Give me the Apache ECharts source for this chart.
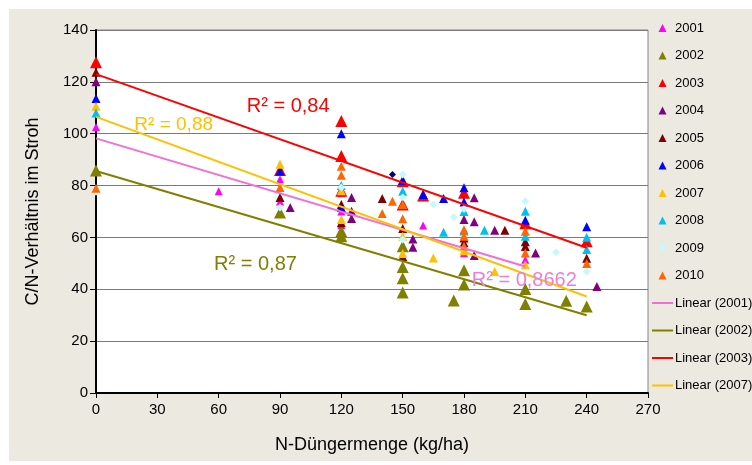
<!DOCTYPE html>
<html>
<head>
<meta charset="utf-8">
<script src="https://cdn.jsdelivr.net/npm/echarts@6/dist/echarts.min.js"></script>
<style>html,body{margin:0;padding:0;background:#fff;}#c{width:752px;height:465px;}</style>
</head>
<body>
<div id="c"></div>
<script>
// ---- data (x = N-Düngermenge kg/ha, y = C/N-Verhältnis) ----
const s2001 = [[0,102.6],[60,77.8],[90,82.4],[90,73.9],[120,77],[120,70],[120,64.7],[160,64.6],[180,53.9],[210,51.4]];
const s2002 = [[0,85.8],[90,69.6],[120,62.4],[120,60.5],[150,56.6],[150,48.6],[150,44.3],[150,38.8],[175,35.7],[180,47.3],[180,41.8],[210,40.1],[210,34.3],[230,35.6],[240,33.4]];
const s2003 = [[0,127.6],[90,86],[120,104.9],[120,91.4],[120,78],[150,81.7],[150,72.7],[160,76.2],[180,77.2],[210,65.5],[240,58.5]];
const s2004 = [[0,120],[95,71.5],[125,75.4],[125,70.1],[125,67.3],[155,59.4],[155,56.2],[180,66.9],[185,75.3],[185,66],[185,53],[195,62.8],[215,54],[245,41.1]];
const s2005 = [[0,123.7],[90,75.4],[120,72.7],[120,65.7],[140,75],[150,63.4],[150,52.6],[180,59.8],[180,57.9],[200,62.8],[210,58.3],[210,56.5],[240,52]];
const s2006 = [[0,113.6],[90,85.6],[120,100],[120,71.5],[150,82],[160,76.6],[170,75],[180,79.2],[180,73.7],[210,66.6],[240,64.1]];
const s2006b = [[145,84.3]];
const s2007 = [[0,110.6],[90,88.2],[120,78],[120,66.9],[150,60.5],[150,53.8],[165,52.1],[180,54.9],[195,46.9],[210,49.5]];
const s2008 = [[0,108],[120,80],[150,77.8],[170,62],[180,70],[180,62.5],[190,62.8],[210,70.1],[210,60.5],[240,60.1],[240,55.3]];
const s2009 = [[0,77.6],[90,71.5],[120,79.3],[150,84.3],[150,75.4],[150,59.2],[165,72.7],[175,67.8],[180,71],[210,74],[225,54.3],[240,46.9]];
const s2010 = [[0,79],[90,79.3],[120,87.5],[120,84],[140,69.2],[145,74],[150,72.7],[150,67.2],[180,63],[180,60.5],[180,56.6],[210,62.4],[210,54],[240,49.9]];
// trend line endpoints
const trend2001 = [[0,98.2],[210,48.8]];
const trend2002 = [[0,85.6],[240,30]];
const trend2003 = [[0,123],[240,56]];
const trend2007 = [[0,106.5],[240,37.2]];
// R² labels: [x, y, text]
const r2003 = [94, 110.6, 'R² = 0,84'];
const r2007 = [38, 103.6, 'R² = 0,88'];
const r2002 = [78, 49.5, 'R² = 0,87'];
const r2001 = [209.5, 43.3, 'R² = 0,8662'];
const xTicks = [0,30,60,90,120,150,180,210,240,270];
const yTicks = [0,20,40,60,80,100,120,140];

const FONT = '"Liberation Sans", Arial, sans-serif';
const TRI = 'path://M5,0 L10,10 L0,10 Z';
const DIA = 'path://M5,0 L10,5 L5,10 L0,5 Z';
const LINE = 'path://M0,0 L21,0 L21,2 L0,2 Z';
const chart = echarts.init(document.getElementById('c'), null, {renderer:'canvas'});

function sc(name, data, color, size, symbol) {
  return {name, type:'scatter', data, symbol: symbol||'triangle', symbolSize:size,
    itemStyle:{color, opacity:1}, z:3};
}
function tl(name, data, color, lab, lcolor, fs) {
  return {name, type:'line', data, symbol:'none', showSymbol:false,
    lineStyle:{color, width:2}, itemStyle:{color}, z:4, silent:true,
    markPoint:{symbol:'circle', symbolSize:1, itemStyle:{color:'rgba(0,0,0,0)'},
      data:[{coord:[lab[0],lab[1]], value:lab[2]}],
      label:{show:true, position:'inside', formatter:lab[2], color:lcolor, fontSize:fs, fontFamily:FONT}}};
}

const option = {
  animation:false,
  backgroundColor:'#ffffff',
  graphic:[{type:'rect', shape:{x:9,y:9,width:743,height:452}, style:{fill:'#ECE9E0'}, z:-10, silent:true}],
  grid:{left:96, right:104, top:30, bottom:72, show:true, backgroundColor:'#ffffff', borderColor:'#888888', borderWidth:1},
  xAxis:{type:'value', min:0, max:270, interval:30,
    name:'N-Düngermenge (kg/ha)', nameLocation:'middle', nameGap:43,
    nameTextStyle:{fontSize:18, color:'#000', fontFamily:FONT},
    axisLine:{show:true, onZero:false, lineStyle:{color:'#000', width:2}},
    axisTick:{show:true, length:5, lineStyle:{color:'#000'}},
    axisLabel:{fontSize:15, color:'#000', fontFamily:FONT, margin:9,
      formatter:v=>xTicks.includes(v)?String(v):''},
    splitLine:{show:false}},
  yAxis:{type:'value', min:0, max:140, interval:20,
    name:'C/N-Verhältnis im Stroh', nameLocation:'middle', nameGap:54,
    nameTextStyle:{fontSize:18, color:'#000', fontFamily:FONT},
    axisLine:{show:true, onZero:false, lineStyle:{color:'#000', width:2}},
    axisTick:{show:true, length:6, lineStyle:{color:'#000'}},
    axisLabel:{fontSize:15, color:'#000', fontFamily:FONT, margin:8,
      formatter:v=>yTicks.includes(v)?String(v):''},
    splitLine:{show:true, lineStyle:{color:'#7a7a7a', width:1}}},
  legend:{orient:'vertical', left:647, top:16, itemWidth:21, itemHeight:8, itemGap:13.5,
    symbolKeepAspect:true,
    textStyle:{fontSize:13, color:'#000', fontFamily:FONT, lineHeight:14, padding:[0,0,0,-3]},
    data:[
      {name:'2001', icon:TRI},{name:'2002', icon:TRI},{name:'2003', icon:TRI},
      {name:'2004', icon:TRI},{name:'2005', icon:TRI},{name:'2006', icon:TRI},
      {name:'2007', icon:TRI},{name:'2008', icon:TRI},{name:'2009', icon:DIA},
      {name:'2010', icon:TRI},
      {name:'Linear (2001)', icon:LINE},{name:'Linear (2002)', icon:LINE},
      {name:'Linear (2003)', icon:LINE},{name:'Linear (2007)', icon:LINE}]},
  series:[
    sc('2001', s2001, '#FF00FF', 8),
    sc('2002', s2002, '#808000', 12),
    sc('2003', s2003, '#FF0000', 12),
    sc('2004', s2004, '#800080', 9),
    sc('2005', s2005, '#800000', 9),
    sc('2006', s2006, '#0000FF', 9),
    sc('2006 ', s2006b, '#000080', 7, 'diamond'),
    sc('2007', s2007, '#FFC000', 9),
    sc('2008', s2008, '#00C0F0', 9),
    sc('2009', s2009, '#C8F8FF', 8, 'diamond'),
    sc('2010', s2010, '#FF6600', 9),
    tl('Linear (2001)', trend2001, '#F070D8', r2001, '#E87FD8', 20),
    tl('Linear (2002)', trend2002, '#808000', r2002, '#808000', 20),
    tl('Linear (2003)', trend2003, '#FF0000', r2003, '#FF0000', 20),
    tl('Linear (2007)', trend2007, '#FFC000', r2007, '#FFC000', 19)
  ]
};
chart.setOption(option);
</script>
</body>
</html>
